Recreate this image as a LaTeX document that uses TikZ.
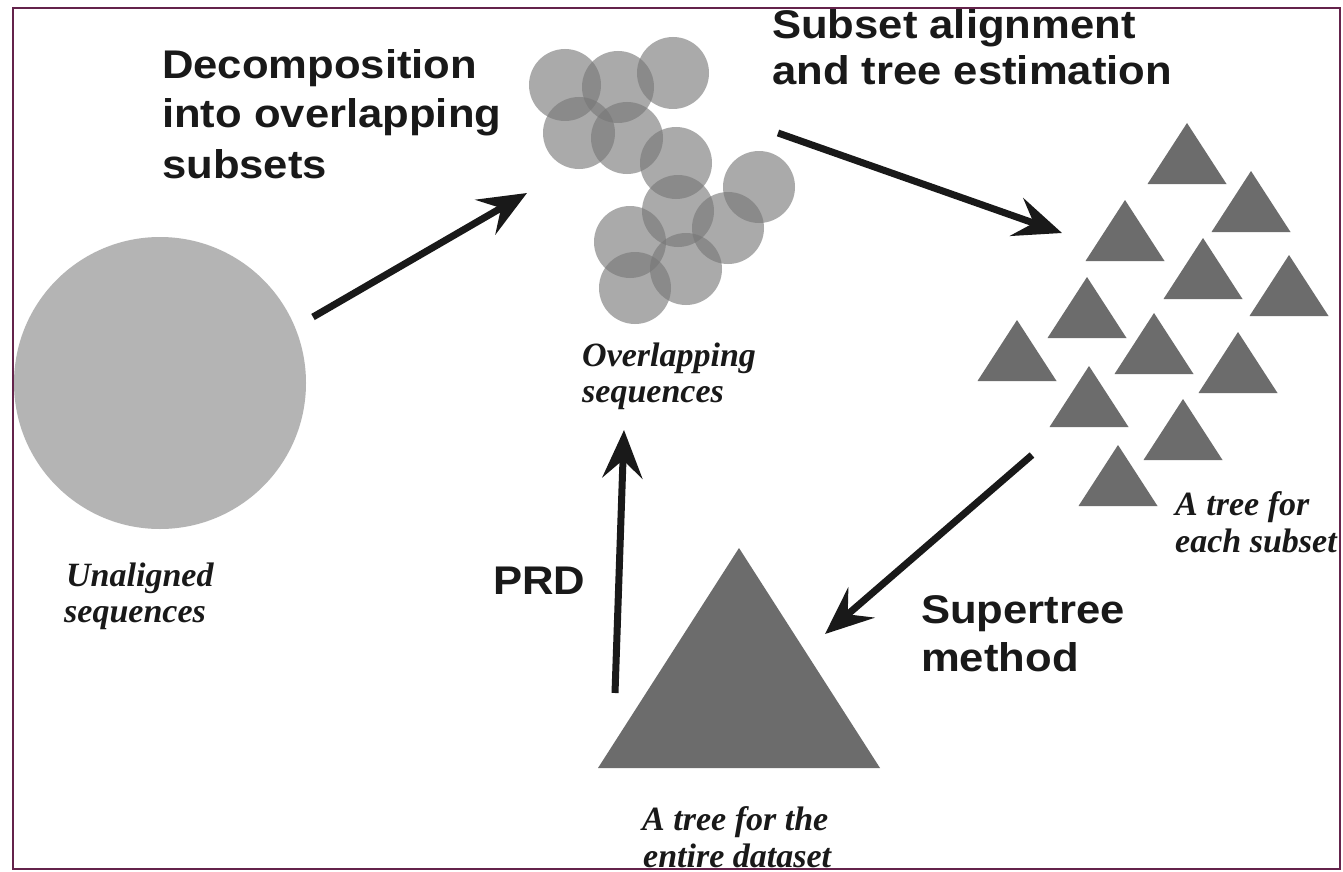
\documentclass[tikz,border=0pt]{standalone}
\usepackage{fontspec}
\usetikzlibrary{arrows.meta}
\newfontfamily\hdfont{Liberation Sans}[FakeStretch=1.09]
\newfontfamily\lblfont{Liberation Serif}
\definecolor{frame}{RGB}{100,35,75}
\definecolor{bigcirc}{RGB}{180,180,180}
\definecolor{smallcirc}{RGB}{119,119,119}
\definecolor{trigray}{RGB}{108,108,108}
\definecolor{txt}{RGB}{25,25,25}
\tikzset{
  head/.style={anchor=base west, inner sep=0pt, text=txt, font=\hdfont\bfseries\fontsize{40}{46}\selectfont},
  lbl/.style={anchor=base west, inner sep=0pt, text=txt, font=\lblfont\bfseries\itshape\fontsize{34}{38}\selectfont},
  arr/.style={line width=7pt, draw=txt, -{Stealth[length=48pt,width=40pt,inset=18pt]}},
  subset/.style={circle, inner sep=0pt, minimum size=72pt, fill=smallcirc, fill opacity=0.62},
  pics/tree/.style={code={\fill[trigray] (0,0) -- (-39.5,61) -- (39.5,61) -- cycle;}}
}
\begin{document}
\begin{tikzpicture}[x=1pt,y=-1pt]
\useasboundingbox (0,0) rectangle (1343,872);
\fill[white] (0,0) rectangle (1343,872);
% unaligned sequences
\node[circle, inner sep=0pt, minimum size=292pt, fill=bigcirc] (unal) at (160,383) {};
% overlapping subsets
\foreach \n/\cx/\cy in {1/565/85, 2/618/87, 3/673/73, 4/579/133, 5/627/138, 6/676/163, 7/759/187, 8/678/211, 9/728/228, 10/630/242, 11/686/269, 12/635/288}{
  \node[subset] (s\n) at (\cx,\cy) {};
}
% subset trees
\foreach \n/\tx/\ty in {1/1187/123, 2/1251/171, 3/1125/200, 4/1203/238, 5/1289/255, 6/1087/277, 7/1017/320, 8/1154/313, 9/1238/332, 10/1089/366, 11/1183/399, 12/1118/445}{
  \pic (t\n) at (\tx,\ty) {tree};
}
% supertree
\fill[trigray] (739,548) -- (598,768) -- (880,768) -- cycle;
% labels
\node[head] (h1a) at (162,79) {Decomposition};
\node[head] (h1b) at (162,128) {into overlapping};
\node[head] (h1c) at (162,178) {subsets};
\node[head] (h2a) at (772,39) {Subset alignment};
\node[head] (h2b) at (772,85) {and tree estimation};
\node[head] (h3) at (493,594) {PRD};
\node[head] (h4a) at (921,623) {Supertree};
\node[head] (h4b) at (921,671) {method};
\node[lbl] (l1a) at (66,586) {Unaligned};
\node[lbl] (l1b) at (64,622) {sequences};
\node[lbl] (l2a) at (582,366) {Overlapping};
\node[lbl] (l2b) at (582,402) {sequences};
\node[lbl] (l3a) at (1175,515) {A tree for};
\node[lbl] (l3b) at (1175,552) {each subset};
\node[lbl] (l4a) at (642,830) {A tree for the};
\node[lbl] (l4b) at (643,867) {entire dataset};
% arrows
\coordinate (a1s) at (313,317); \coordinate (a1e) at (527,193);
\coordinate (a2s) at (778,133); \coordinate (a2e) at (1062,233);
\coordinate (a3s) at (1032,455); \coordinate (a3e) at (825,634);
\coordinate (a4s) at (615,693); \coordinate (a4e) at (624,430);
\draw[arr] (a1s) -- (a1e);
\draw[arr] (a2s) -- (a2e);
\draw[arr] (a3s) -- (a3e);
\draw[arr] (a4s) -- (a4e);
% frame
\fill[white] (1340,0) rectangle (1343,872);
\fill[white] (0,869) rectangle (1343,872);
\draw[frame, line width=2.5pt] (13,8) rectangle (1340,869);
\end{tikzpicture}
\end{document}
